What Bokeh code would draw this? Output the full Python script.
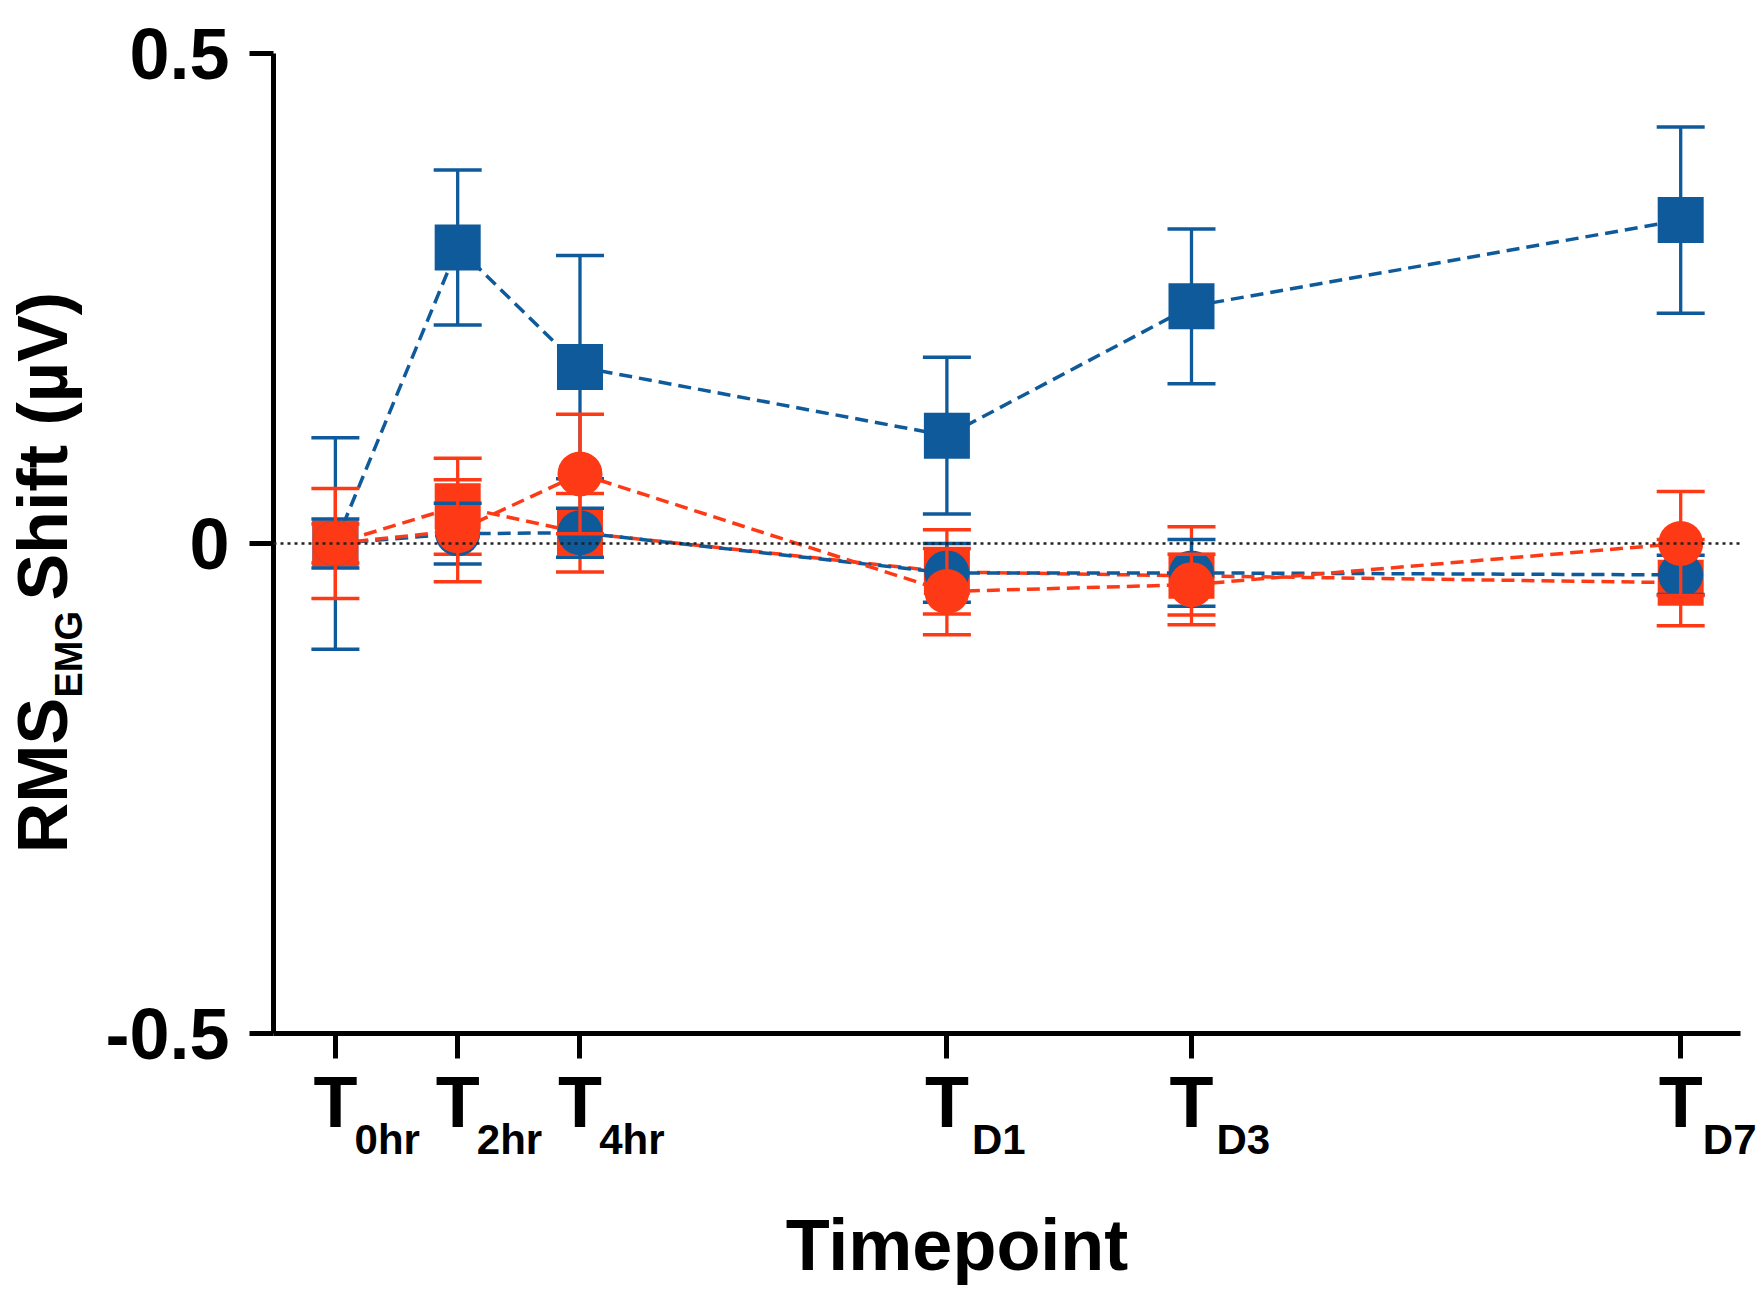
import math
from bokeh.plotting import figure
from bokeh.models import Range1d, FixedTicker, Span, LinearAxis
from bokeh.embed import file_html
from bokeh.resources import INLINE

# ---------------- data ----------------
timepoint_subs = ["0hr", "2hr", "4hr", "D1", "D3", "D7"]
timepoint_pos = [0, 1, 2, 5, 7, 11]

# blue squares
bs_mean = [0.000, 0.302, 0.180, 0.110, 0.242, 0.330]
bs_err = [0.108, 0.079, 0.114, 0.080, 0.079, 0.095]
# red squares
rs_mean = [0.000, 0.038, 0.011, -0.029, -0.033, -0.040]
rs_err = [0.020, 0.049, 0.040, 0.043, 0.050, 0.044]
# blue circles
bc_mean = [0.000, 0.010, 0.011, -0.030, -0.030, -0.032]
bc_err = [0.025, 0.031, 0.025, 0.030, 0.034, 0.020]
# red circles
rc_mean = [0.000, 0.013, 0.071, -0.049, -0.042, 0.000]
rc_err = [0.056, 0.052, 0.061, 0.044, 0.031, 0.053]

y_ticks = [-0.5, 0, 0.5]
y_tick_labels = ["-0.5", "0", "0.5"]

BLUE = "#0E5A9A"
RED = "#FE3A16"
FONT = "Liberation Sans"
NB = "\u00a0"

X0, X1 = -0.506, 11.489
SUB_SHIFT = 0.424  # subscript shift to the right of the tick (data units)

# ---------------- figure ----------------
p = figure(width=1756, height=1290,
           x_range=Range1d(X0, X1), y_range=Range1d(-0.5, 0.5),
           output_backend="svg", toolbar_location=None,
           min_border_left=270, min_border_right=16,
           min_border_top=53, min_border_bottom=257)
p.outline_line_color = None
p.grid.visible = False
p.background_fill_color = "white"
p.border_fill_color = "white"
p.extra_x_ranges = {"sub": Range1d(X0 - SUB_SHIFT, X1 - SUB_SHIFT)}

for ax in (p.xaxis[0], p.yaxis[0]):
    ax.axis_line_width = 5
    ax.axis_line_color = "black"
    ax.major_tick_line_width = 5
    ax.major_tick_line_color = "black"
    ax.minor_tick_line_color = None
    ax.major_tick_in = 0
    ax.major_label_text_font = FONT
    ax.major_label_text_font_style = "bold"
    ax.major_label_text_font_size = "72px"
    ax.major_label_text_color = "black"

yax = p.yaxis[0]
yax.ticker = FixedTicker(ticks=y_ticks)
yax.major_label_overrides = {t: s for t, s in zip(y_ticks, y_tick_labels)}
yax.major_tick_out = 24
yax.major_label_standoff = 20
# subscript part of the y title
yax.axis_label = "EMG" + NB * 21
yax.axis_label_text_font = FONT
yax.axis_label_text_font_style = "bold"
yax.axis_label_text_font_size = "38px"
yax.axis_label_text_color = "black"
yax.axis_label_standoff = 12

# main part of the y title, on an outer label-only axis
ytitle = LinearAxis(ticker=FixedTicker(ticks=[]), axis_line_color=None,
                    major_tick_line_color=None, minor_tick_line_color=None,
                    major_label_text_font_size="0px",
                    axis_label="RMS" + NB * 5 + "Shift (µV)" + NB * 3,
                    axis_label_text_font=FONT,
                    axis_label_text_font_style="bold",
                    axis_label_text_font_size="70px",
                    axis_label_text_color="black",
                    axis_label_standoff=-36)
p.add_layout(ytitle, "left")

xax = p.xaxis[0]
xax.ticker = FixedTicker(ticks=timepoint_pos)
xax.major_label_overrides = {t: "T" for t in timepoint_pos}
xax.major_tick_out = 25
xax.major_label_standoff = 3

# subscripts of the x tick labels + x title
xsub = LinearAxis(x_range_name="sub", ticker=FixedTicker(ticks=timepoint_pos),
                  axis_line_color=None, major_tick_line_color=None,
                  minor_tick_line_color=None, major_tick_out=0, major_tick_in=0,
                  major_label_overrides={t: s for t, s in zip(timepoint_pos, timepoint_subs)},
                  major_label_text_font=FONT, major_label_text_font_style="bold",
                  major_label_text_font_size="42px", major_label_text_color="black",
                  major_label_standoff=-29,
                  axis_label="Timepoint" + NB * 5,
                  axis_label_text_font=FONT, axis_label_text_font_style="bold",
                  axis_label_text_font_size="72px", axis_label_text_color="black",
                  axis_label_standoff=39)
p.add_layout(xsub, "below")

# zero reference line
p.add_layout(Span(location=0, dimension="width", line_color="#222222",
                  line_width=2.5, line_dash="3 4"))


def draw_series(mean, err, color, marker, size, dash_offset):
    x = timepoint_pos
    lo = [m - e for m, e in zip(mean, err)]
    hi = [m + e for m, e in zip(mean, err)]
    p.segment(x0=x[:-1], y0=mean[:-1], x1=x[1:], y1=mean[1:],
              line_color=color, line_width=3.5, line_dash="13 7",
              line_dash_offset=dash_offset)
    p.segment(x0=x, y0=lo, x1=x, y1=hi, line_color=color, line_width=3.3)
    p.scatter(x, hi, marker="dash", size=48, line_color=color, line_width=3.5)
    p.scatter(x, lo, marker="dash", size=48, line_color=color, line_width=3.5)
    p.scatter(x, mean, marker=marker, size=size, fill_color=color,
              line_color=None)


draw_series(bs_mean, bs_err, BLUE, "square", 46, 0)
draw_series(rs_mean, rs_err, RED, "square", 46, 10)
draw_series(bc_mean, bc_err, BLUE, "circle", 45, 0)
draw_series(rc_mean, rc_err, RED, "circle", 45, 0)

open("out.html", "w").write(file_html(p, INLINE))
